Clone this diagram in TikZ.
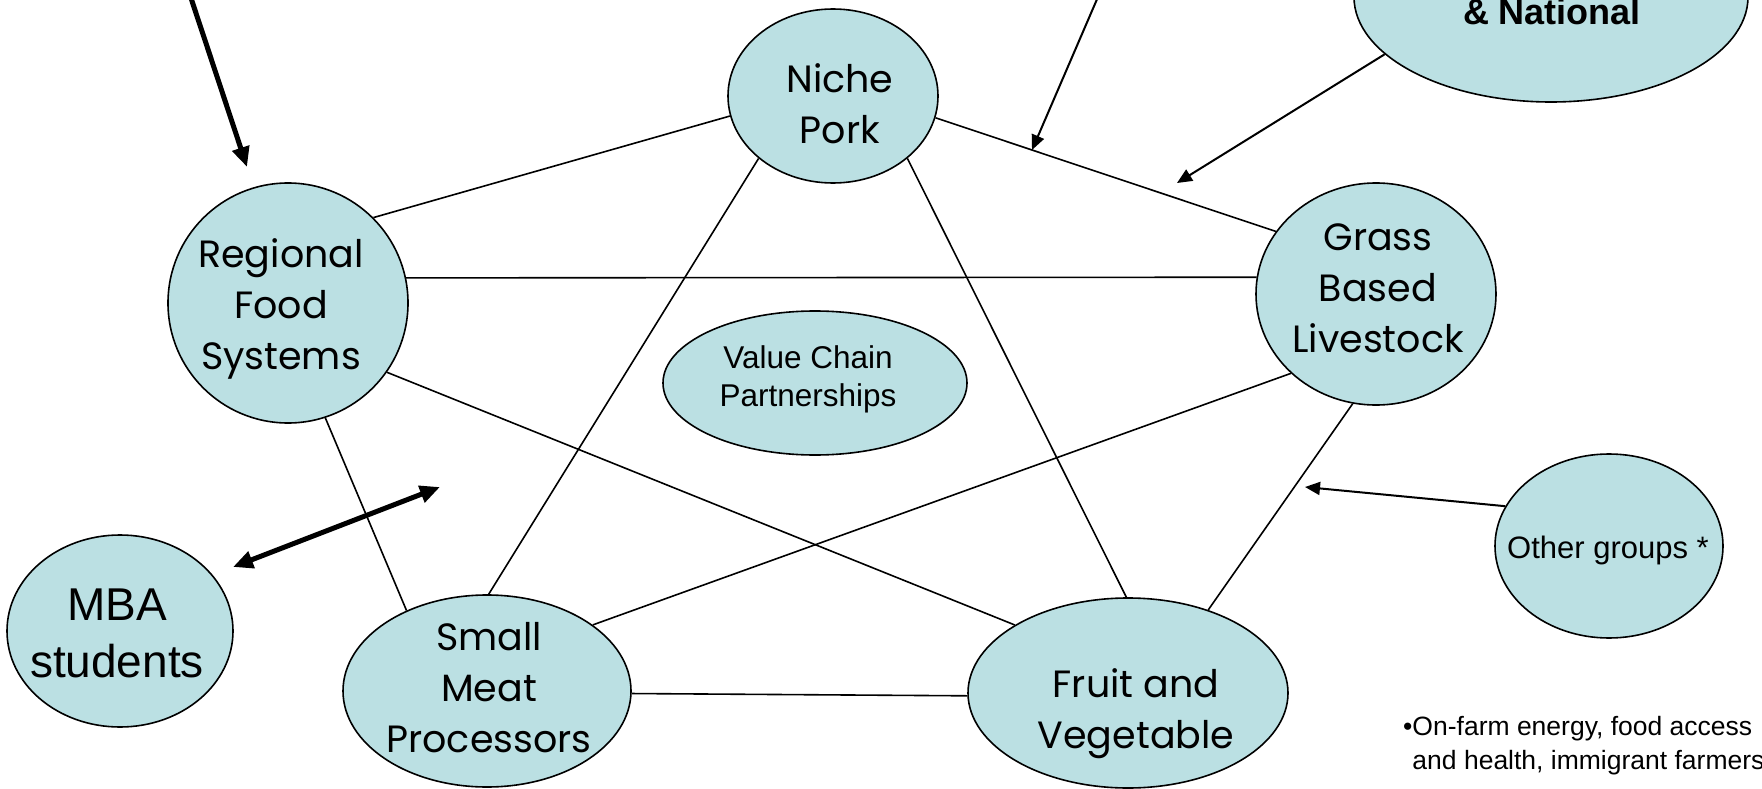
\documentclass[tikz,border=0pt]{standalone}
\usepackage{fontspec}
\setmainfont{Liberation Sans}
\newfontfamily\comicf{Poppins}
\usetikzlibrary{shapes.geometric,arrows.meta}
\definecolor{bubble}{HTML}{BBE0E3}
\newcommand{\mlines}[1]{\begin{tabular}[t]{@{}c@{}}#1\end{tabular}}
\begin{document}
\begin{tikzpicture}[x=1pt,y=-1pt,
  bub/.style={ellipse, draw=black, line width=1.6pt, fill=bubble, inner sep=0pt},
  link/.style={line width=1.6pt},
  tarrow/.style={line width=2pt, -{Triangle[length=15pt,width=13pt]}},
  karrow/.style={line width=5pt, -{Triangle[length=20pt,width=17pt]}},
  dkarrow/.style={line width=5pt, {Triangle[length=20pt,width=17pt]}-{Triangle[length=20pt,width=17pt]}},
  ctext/.style={font=\comicf\fontsize{38}{51}\selectfont, inner sep=0pt, anchor=base},
  atext/.style={inner sep=0pt, anchor=base}]
\useasboundingbox (0,0) rectangle (1762,789);
\clip (0,0) rectangle (1762,789);
\fill[white] (0,0) rectangle (1762,789);

% bubbles
\node[bub, minimum width=240pt, minimum height=240pt] (reg) at (288,303) {};
\node[bub, minimum width=210pt, minimum height=174pt] (niche) at (833,96) {};
\node[bub, minimum width=240pt, minimum height=222pt] (grass) at (1376,294) {};
\node[bub, minimum width=288pt, minimum height=192pt] (small) at (487,691) {};
\node[bub, minimum width=320pt, minimum height=190pt] (fruit) at (1128,693) {};
\node[bub, minimum width=226pt, minimum height=192pt] (mba) at (120,631) {};
\node[bub, minimum width=228pt, minimum height=184pt] (other) at (1609,546) {};
\node[bub, minimum width=304pt, minimum height=144pt] (vcp) at (815,383) {};
\node[bub, minimum width=394pt, minimum height=210pt] (natl) at (1551,-3) {};

% texts
\node[ctext] (regt) at (281,267) {\mlines{Regional\\Food\\Systems}};
\node[ctext] (nicht) at (840,93) {\mlines{Niche\\Pork}};
\node[ctext] (grasst) at (1378,250) {\mlines{Grass\\Based\\Livestock}};
\node[ctext] (smallt) at (489,650) {\mlines{Small\\Meat\\Processors}};
\node[ctext] (fruitt) at (1136,697) {\mlines{Fruit and\\Vegetable}};
\node[atext, font=\fontsize{46}{57}\selectfont] (mbat) at (117,620) {\mlines{MBA\\students}};
\node[atext, font=\fontsize{31}{38}\selectfont] (othert) at (1608,558) {Other groups *};
\node[atext, font=\fontsize{31.5}{38}\selectfont] (vcpt) at (808,368) {\mlines{Value Chain\\Partnerships}};
\node[atext, font=\bfseries\fontsize{36}{43}\selectfont] (natlt) at (1552,25) {\& National};
\node[atext, anchor=base west, font=\fontsize{26.5}{34}\selectfont] (note) at (1403,735)
  {\begin{tabular}[t]{@{}l@{}}•On-farm energy, food access\\\phantom{•}and health, immigrant farmers\end{tabular}};

% links
\draw[link] (reg.45) -- (niche.191);
\draw[link] (reg.12) -- (grass.172);
\draw[link] (reg.-35) -- (fruit.149);
\draw[link] (reg.-72) -- (small.135);
\draw[link] (niche.220) -- (small.89);
\draw[link] (niche.-40) -- (fruit.91);
\draw[link] (niche.-12) -- (grass.148);
\draw[link] (grass.223) -- (small.32);
\draw[link] (grass.258) -- (fruit.46);
\draw[link] (small.-1) -- (fruit.181);

% arrows
\coordinate (aAs) at (186,-17);
\coordinate (aAe) at (247,167);
\coordinate (aBs) at (1104,-17);
\coordinate (aBe) at (1032,150);
\coordinate (aCe) at (1177,183);
\coordinate (aDl) at (233,567);
\coordinate (aDr) at (440,487);
\coordinate (aEe) at (1305,487);
\draw[karrow] (aAs) -- (aAe);
\draw[tarrow] (aBs) -- (aBe);
\draw[tarrow] (natl.199) -- (aCe);
\draw[dkarrow] (aDl) -- (aDr);
\draw[tarrow] (other.159) -- (aEe);
\end{tikzpicture}
\end{document}
